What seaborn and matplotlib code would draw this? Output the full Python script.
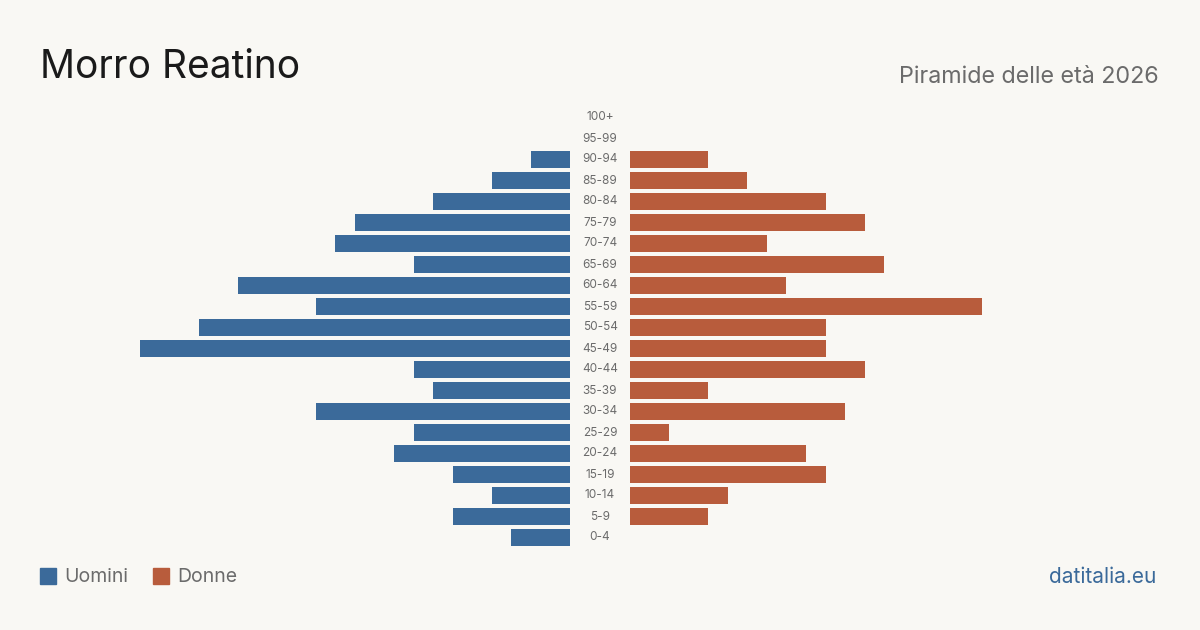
"""
Piramide delle età - Morro Reatino 2026
"""

import numpy as np
import pandas as pd
import matplotlib
matplotlib.use("Agg")
import matplotlib.pyplot as plt
import seaborn as sns

# Dati (dall'alto verso il basso)
age_groups = ["100+", "95-99", "90-94", "85-89", "80-84", "75-79", "70-74",
              "65-69", "60-64", "55-59", "50-54", "45-49", "40-44", "35-39",
              "30-34", "25-29", "20-24", "15-19", "10-14", "5-9", "0-4"]
uomini = [0, 0, 2, 4, 7, 11, 12, 8, 17, 13, 19, 22, 8, 7, 13, 8, 9, 6, 4, 6, 3]
donne = [0, 0, 4, 6, 10, 12, 7, 13, 8, 18, 10, 10, 12, 4, 11, 2, 9, 10, 5, 4, 0]

BG = "#f9f8f4"
BLUE = "#3b6a9a"
ORANGE = "#b85c3c"
GREY = "#6b6b6b"

df = pd.DataFrame({"eta": age_groups, "uomini": uomini, "donne": donne})

sns.set_theme(style="white")
plt.rcParams["font.family"] = ["Inter", "DejaVu Sans"]

W, H = 1200, 630
fig = plt.figure(figsize=(12, 6.3), dpi=100, facecolor=BG)

# assi in pixel: sinistra 100-570, destra 630-1100, righe 106.5-547.5
top, bottom = 107, 548
ax_l = fig.add_axes([100 / W, 1 - bottom / H, 470 / W, (bottom - top) / H])
ax_r = fig.add_axes([630 / W, 1 - bottom / H, 470 / W, (bottom - top) / H])

xmax = 470 / 19.55
sns.barplot(data=df, y="eta", x="uomini", ax=ax_l, color=BLUE, width=0.8,
            saturation=1, orient="h", linewidth=0)
sns.barplot(data=df, y="eta", x="donne", ax=ax_r, color=ORANGE, width=0.8,
            saturation=1, orient="h", linewidth=0)

ax_l.set_xlim(xmax, 0)
ax_r.set_xlim(0, xmax)
for ax in (ax_l, ax_r):
    ax.set_facecolor("none")
    ax.set_ylim(len(age_groups) - 0.5, -0.5)
    ax.set_xlabel("")
    ax.set_ylabel("")
    ax.set_xticks([])
    ax.set_yticks([])
    sns.despine(ax=ax, left=True, bottom=True)

# etichette età al centro
for i, lab in enumerate(age_groups):
    y = top + (i + 0.5) * (bottom - top) / len(age_groups)
    fig.text(600 / W, 1 - y / H, lab, ha="center", va="center",
             fontsize=8.5, color=GREY)

fig.text(40 / W, 1 - 67 / H, "Morro Reatino", ha="left", va="center",
         fontsize=28, color="#1a1a1a")
fig.text(1159 / W, 1 - 77 / H, "Piramide delle età 2026", ha="right",
         va="center", fontsize=16.8, color=GREY)

# legenda
fig.patches.append(plt.Rectangle((40 / W, 1 - 584 / H), 16 / W, 16 / H,
                                 transform=fig.transFigure, color=BLUE))
fig.text(64 / W, 1 - 577 / H, "Uomini", ha="left", va="center",
         fontsize=14, color=GREY)
fig.patches.append(plt.Rectangle((153 / W, 1 - 584 / H), 16 / W, 16 / H,
                                 transform=fig.transFigure, color=ORANGE))
fig.text(177 / W, 1 - 577 / H, "Donne", ha="left", va="center",
         fontsize=14, color=GREY)

fig.text(1156 / W, 1 - 577 / H, "datitalia.eu", ha="right", va="center",
         fontsize=15, color=BLUE)

fig.savefig("out.png", dpi=100, facecolor=BG)
